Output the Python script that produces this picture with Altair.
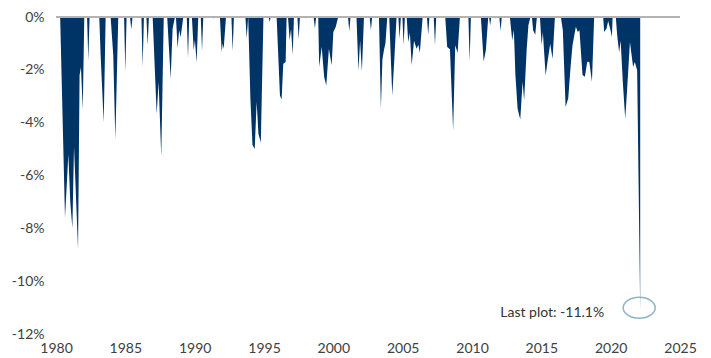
import altair as alt
import pandas as pd

# Drawdown series (decimal year, drawdown in %)
years = [
    1980.30, 1980.65, 1980.89, 1981.03, 1981.18, 1981.30, 1981.59, 1981.70, 1981.80, 1981.93, 1982.04,
    1982.24, 1982.33, 1982.42,
    1983.12, 1983.22, 1983.44, 1983.58,
    1983.94, 1984.13, 1984.28, 1984.49,
    1984.91, 1985.00, 1985.09,
    1985.34, 1985.43, 1985.52,
    1986.16, 1986.25, 1986.34,
    1986.52, 1986.61, 1986.70,
    1986.97, 1987.26, 1987.40, 1987.59, 1987.77,
    1988.02, 1988.27, 1988.41, 1988.58,
    1988.65, 1988.77, 1988.88, 1988.99, 1989.18,
    1989.43, 1989.52, 1989.61,
    1989.80, 1989.93, 1990.02, 1990.14, 1990.26,
    1990.44, 1990.53, 1990.62,
    1991.28, 1991.34, 1991.40,
    1991.82, 1991.95, 1992.02, 1992.09, 1992.26,
    1992.65, 1992.74, 1992.83,
    1993.66, 1993.75, 1993.86, 1994.02, 1994.17, 1994.33, 1994.47, 1994.60, 1994.77, 1994.96,
    1995.34, 1995.41, 1995.48,
    1995.91, 1996.15, 1996.27, 1996.39, 1996.56, 1996.63,
    1996.73, 1996.85, 1996.95, 1997.07, 1997.16,
    1997.41, 1997.50, 1997.59,
    1997.96, 1998.02, 1998.08,
    1998.58, 1998.67, 1998.76,
    1998.91, 1998.98, 1999.16, 1999.34, 1999.49, 1999.68, 1999.88, 2000.00, 2000.17, 2000.35,
    2001.06, 2001.15, 2001.24,
    2001.67, 2001.81, 2001.93, 2002.06, 2002.21,
    2002.62, 2002.71, 2002.80,
    2003.01, 2003.07, 2003.13,
    2003.29, 2003.43, 2003.54, 2003.65, 2003.76, 2003.89,
    2004.03, 2004.25, 2004.37, 2004.56,
    2004.69, 2004.78, 2004.87,
    2004.98, 2005.07, 2005.16,
    2005.29, 2005.40, 2005.52, 2005.65, 2005.82, 2006.00, 2006.13, 2006.24, 2006.44,
    2006.75, 2006.84, 2006.93,
    2007.24, 2007.33, 2007.42,
    2008.07, 2008.21, 2008.41, 2008.64, 2008.79, 2008.96, 2009.13,
    2009.74, 2009.83, 2009.92,
    2010.64, 2010.84, 2011.00, 2011.17,
    2011.23, 2011.31, 2011.39,
    2011.64, 2011.70, 2011.76,
    2011.97, 2012.06, 2012.15,
    2012.73, 2012.90, 2013.02, 2013.13, 2013.29, 2013.48, 2013.65, 2013.76, 2013.94, 2014.07, 2014.22,
    2014.32, 2014.41, 2014.56, 2014.68,
    2014.90, 2015.02, 2015.11, 2015.31, 2015.45, 2015.64, 2015.81, 2015.98,
    2016.41, 2016.55, 2016.75, 2016.94, 2017.11, 2017.25, 2017.49, 2017.63, 2017.75, 2017.97,
    2018.14, 2018.31, 2018.46, 2018.65, 2018.81,
    2019.46, 2019.53, 2019.70, 2019.82, 2019.99, 2020.09, 2020.14,
    2020.37, 2020.47, 2020.61, 2020.72, 2020.88, 2021.05, 2021.19, 2021.39, 2021.50, 2021.62,
    2021.74, 2021.91, 2022.13,
]
drawdown = [
    0, -7.6, -5.2, -7.0, -8.0, -4.9, -8.8, -2.2, -1.9, -3.5, 0,
    0, -1.65, 0,
    0, -1.45, -4.0, 0,
    0, -1.45, -4.65, 0,
    0, -2.08, 0,
    0, -0.47, 0,
    0, -1.87, 0,
    0, -1.07, 0,
    0, -3.66, -2.46, -5.28, 0,
    0, -2.34, -0.44, 0,
    0, -1.17, -0.5, -0.76, 0,
    0, -1.55, 0,
    0, -1.26, -0.87, -1.73, 0,
    0, -1.3, 0,
    0, -0.06, 0,
    0, -1.33, -1.0, -1.21, 0,
    0, -1.3, 0,
    0, -0.8, 0, -3.1, -4.85, -5.0, -3.22, -4.43, -4.75, 0,
    0, -0.19, 0,
    0, -2.97, -3.12, -1.77, -1.7, 0,
    0, -0.88, -0.45, -1.43, 0,
    0, -0.84, 0,
    0, -0.06, 0,
    0, -0.44, 0,
    0, -1.89, -1.14, -2.27, -2.59, -1.2, -1.83, -0.57, -0.38, 0,
    0, -0.54, 0,
    0, -2.03, -0.9, -2.06, 0,
    0, -0.5, 0,
    0, -0.06, 0,
    0, -3.47, -1.6, -1.26, -0.98, 0,
    0, -2.97, -1.86, 0,
    0, -0.82, 0,
    0, -1.07, 0,
    0, -0.95, -0.6, -1.83, -0.9, -1.2, -1.05, -1.35, 0,
    0, -0.67, 0,
    0, -1.07, 0,
    0, -1.14, -1.22, -4.29, -1.07, -1.35, 0,
    0, -1.67, 0,
    0, -1.68, -1.26, 0,
    0, -0.31, 0,
    0, -0.06, 0,
    0, -0.52, 0,
    0, -0.88, -0.49, -2.2, -3.47, -3.88, -2.45, -3.16, -1.26, -0.3, 0,
    0, -0.5, -0.67, 0,
    0, -1.07, -0.57, -2.21, -1.68, -1.01, -1.58, 0,
    0, -0.5, -3.41, -3.08, -1.88, -1.06, -0.37, -0.57, -0.5, -2.2,
    -2.26, -1.69, -1.7, -2.45, 0,
    0, -0.57, -0.44, -0.15, -0.5, -0.76, 0,
    0, -0.69, -1.33, -0.9, -2.5, -3.85, -2.71, -0.95, -1.4, -1.89,
    -1.7, -2.02, -11.1,
]
x_ticks = [1980, 1985, 1990, 1995, 2000, 2005, 2010, 2015, 2020, 2025]
y_ticks = [-12, -10, -8, -6, -4, -2, 0]
last_label = "Last plot: -11.1%"

FONT = "Lato"
NAVY = "#003366"

df = pd.DataFrame({"year": years, "dd": drawdown})
last = df.tail(1)

x_enc = alt.X(
    "year:Q",
    scale=alt.Scale(domain=[1980, 2025], nice=False, zero=False),
    axis=alt.Axis(values=x_ticks, format="d", domain=False, ticks=False, grid=False,
                  labelPadding=7, labelFont=FONT, labelFontSize=14, labelColor="#404040",
                  title=None, labelFlush=False),
)
y_enc = alt.Y(
    "dd:Q",
    scale=alt.Scale(domain=[-12, 0], nice=False, zero=False),
    axis=alt.Axis(values=y_ticks, labelExpr="datum.value + '%'", domain=False, ticks=False,
                  grid=False, labelPadding=12, labelFont=FONT, labelFontSize=14,
                  labelColor="#404040", title=None),
)

area = alt.Chart(df).mark_area(color=NAVY, interpolate="linear").encode(
    x=x_enc, y=y_enc, y2=alt.datum(0)
)

zero_rule = alt.Chart(df).mark_rule(color="#b3b3b3", strokeWidth=1).encode(y=alt.datum(0))

ellipse = alt.Chart(last).mark_point(
    shape="M-1,0A1,0.66,0,1,1,1,0A1,0.66,0,1,1,-1,0Z",
    size=1024, filled=False, stroke="#8fb4c8", strokeWidth=1.5, opacity=1,
    xOffset=-1, yOffset=-2.5,
).encode(x="year:Q", y="dd:Q")

label = alt.Chart(last).mark_text(
    text=last_label, align="right", baseline="alphabetic", dx=-36, dy=6.5,
    font=FONT, fontSize=14, color="#333333",
).encode(x="year:Q", y="dd:Q")

chart = alt.layer(area, zero_rule, ellipse, label).properties(
    width=624, height=317,
    autosize=alt.AutoSizeParams(type="none"),
    padding={"left": 48, "top": 9, "right": 20, "bottom": 25},
).configure_view(stroke=None)

chart.save("out.html", embed_options={"renderer": "svg", "actions": False})
